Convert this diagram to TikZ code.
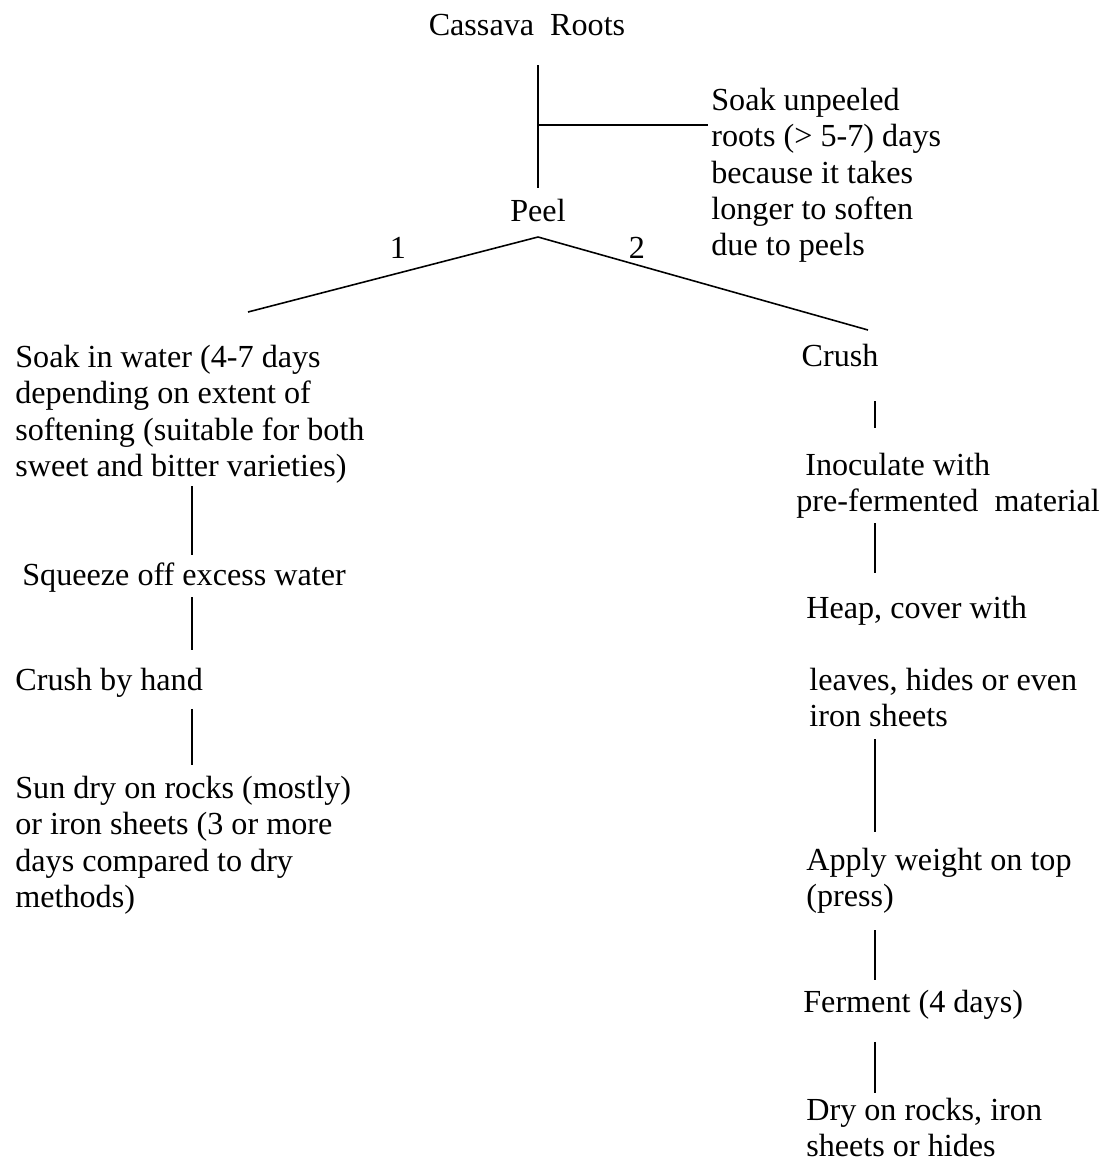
\documentclass[tikz,border=0pt]{standalone}
\usepackage{fontspec}
\setmainfont{Liberation Serif}
\usetikzlibrary{calc}

\begin{document}
\begin{tikzpicture}[x=0.02cm, y=-0.02cm,
    every node/.style={font=\fontsize{18.3}{20.6}\selectfont, inner sep=0pt, align=left},
    stage/.style={anchor=north west},
    link/.style={line width=0.9pt}]

    \useasboundingbox (0,0) rectangle (1109,1160);

    % top of the tree
    \node (roots) [anchor=north] at (527,14) {Cassava\ \ Roots};
    \node (peel) [anchor=north] at (538,199) {Peel};
    \node (unpeeled) [stage] at (711,88) {Soak unpeeled\\roots (> 5-7) days\\because it takes\\longer to soften\\due to peels};

    \coordinate (J) at (538,125);
    \coordinate (P) at (538,237);
    \coordinate (L) at (248,312);
    \coordinate (R) at (868,330);
    \coordinate (lx) at (192,0);
    \coordinate (rx) at (875,0);

    \draw [link, shorten <=16.4pt, shorten >=6.2pt] (peel.north |- roots.south) -- (peel.north);
    \draw [link, shorten >=1.7pt] (J) -- (J -| unpeeled.west);
    \draw [link] (L) -- (P) -- (R);

    \node (one) at (398,248) {1};
    \node (two) at (637,248) {2};

    % left branch
    \node (soakwater) [stage] at (15,345) {Soak in water (4-7 days\\depending on extent of\\softening (suitable for both\\sweet and bitter varieties)};
    \node (squeeze) [stage] at (22,563) {Squeeze off excess water};
    \node (handcrush) [stage] at (15,668) {Crush by hand};
    \node (sundry) [stage] at (15,776) {Sun dry on rocks (mostly)\\or iron sheets (3 or more\\days compared to dry\\methods)};

    \draw [link, shorten <=1.7pt, shorten >=4.5pt] (soakwater.south -| lx) -- (squeeze.north -| lx);
    \draw [link, shorten <=2.3pt, shorten >=10.2pt] (squeeze.south -| lx) -- (handcrush.north -| lx);
    \draw [link, shorten <=6.2pt, shorten >=6.2pt] (handcrush.south -| lx) -- (sundry.north -| lx);

    % right branch
    \node (crush) [anchor=north] at (840,344) {Crush};
    \node (inoculate) [stage] at (796,453) {\hspace{5.1pt}Inoculate with\\pre-fermented\ \ material};
    \node (heap) [stage] at (806,596) {Heap, cover with};
    \node (leaves) [stage] at (809,668) {leaves, hides or even\\iron sheets};
    \node (weight) [stage] at (806,848) {Apply weight on top\\(press)};
    \node (ferment) [stage] at (803,990) {Ferment (4 days)};
    \node (dry) [stage] at (806,1098) {Dry on rocks, iron\\sheets or hides};

    \draw [link, shorten <=19.3pt, shorten >=14.2pt] (crush.south -| rx) -- (inoculate.north -| rx);
    \draw [link, shorten <=2.3pt, shorten >=13pt] (inoculate.south -| rx) -- (heap.north -| rx);
    \draw [link, shorten <=6.8pt, shorten >=9.1pt] (leaves.south -| rx) -- (weight.north -| rx);
    \draw [link, shorten <=9.1pt, shorten >=5.7pt] (weight.south -| rx) -- (ferment.north -| rx);
    \draw [link, shorten <=12.5pt, shorten >=2.8pt] (ferment.south -| rx) -- (dry.north -| rx);
\end{tikzpicture}
\end{document}
